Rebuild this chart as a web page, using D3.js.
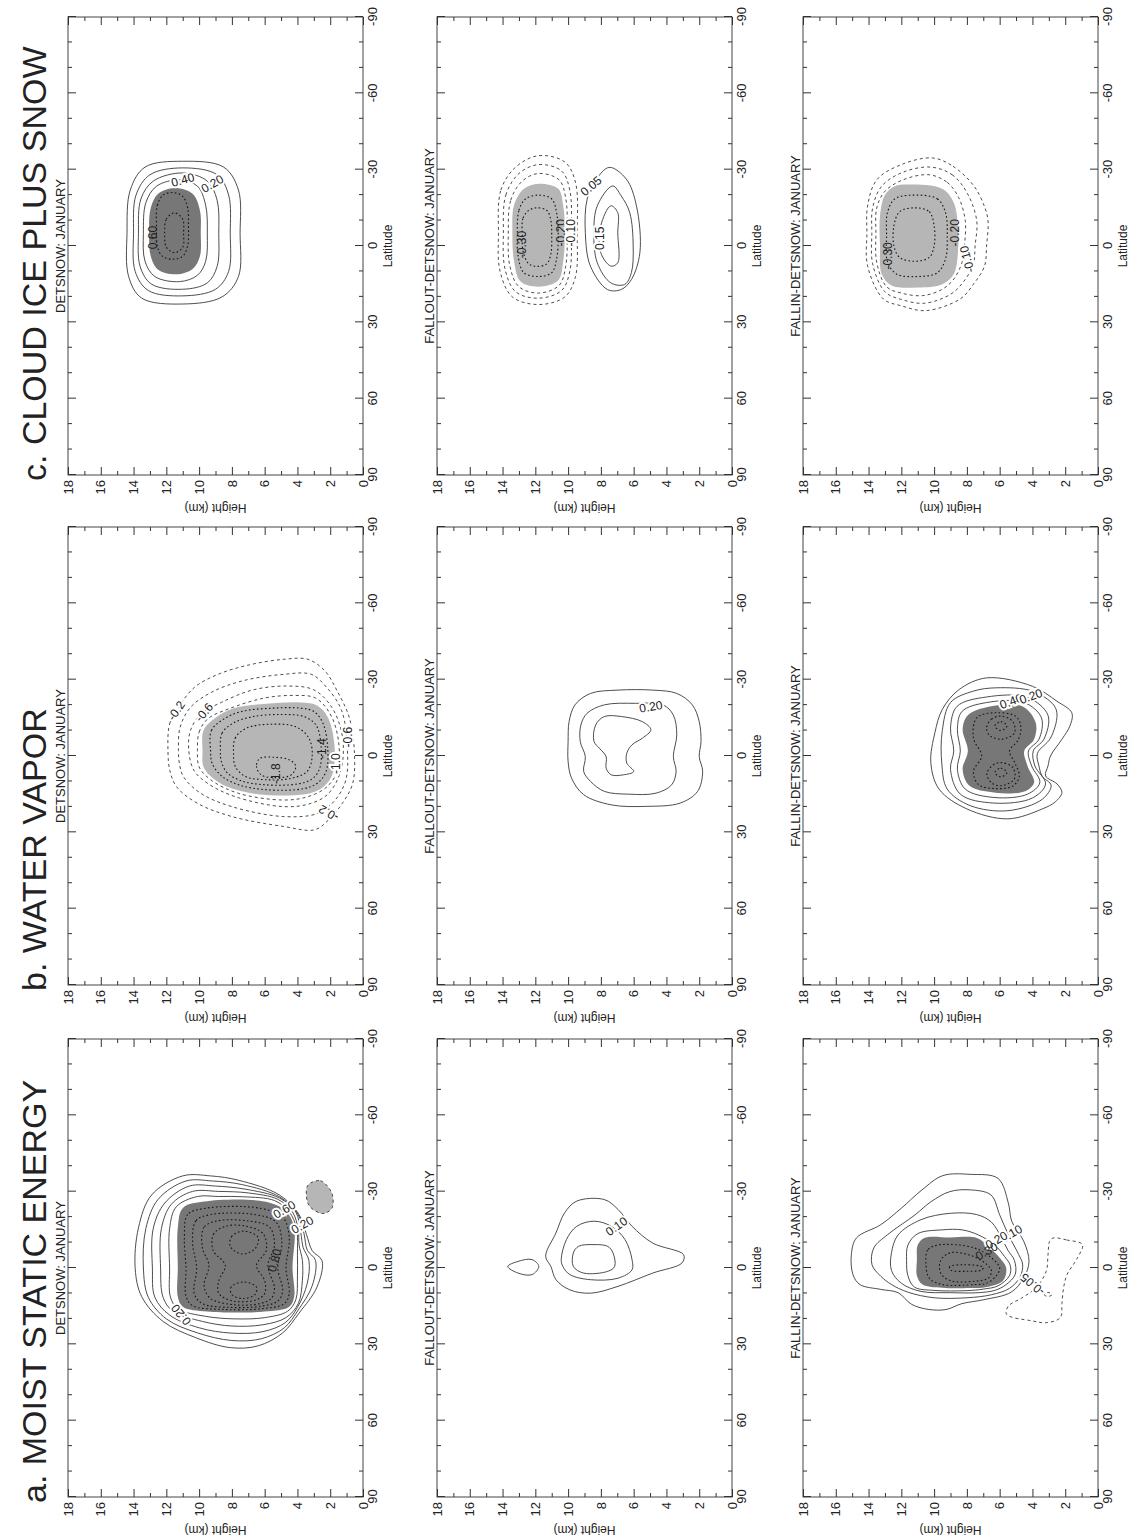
<!DOCTYPE html>
<html>
<head>
<meta charset="utf-8">
<script src="https://cdn.jsdelivr.net/npm/d3@7"></script>
<style>
  body { margin: 0; background: #fff; }
  svg { display: block; }
  text { font-family: "Liberation Sans", Arial, sans-serif; fill: #222; }
</style>
</head>
<body>
<svg id="fig" width="1134" height="1539"></svg>
<script>
// ---- labels and ticks ----
const columnTitles = ['a. MOIST STATIC ENERGY', 'b. WATER VAPOR', 'c. CLOUD ICE PLUS SNOW'];
const rowTitles = ['DETSNOW: JANUARY', 'FALLOUT-DETSNOW: JANUARY', 'FALLIN-DETSNOW: JANUARY'];
const latTicks = [90, 60, 30, 0, -30, -60, -90];
const latMinor = [80, 70, 50, 40, 20, 10, -10, -20, -40, -50, -70, -80];
const kmTicks = [0, 2, 4, 6, 8, 10, 12, 14, 16, 18];
const kmMinor = [1, 3, 5, 7, 9, 11, 13, 15, 17];

// ---- contours: [latitude, height km] ----
// a. moist static energy, DETSNOW
const aDetR1 = [[-36.2,11.0],[-28.7,12.9],[-15.8,13.7],[0.3,13.9],[11.3,13.5],[21,12.2],[27.4,10.2],[31.3,8.1],[30.6,6.4],[25.5,4.9],[17.7,3.9],[7.4,2.8],[-2.9,2.5],[-6.8,3.1],[-13.2,3.45],[-21,3.9],[-28.7,5.1],[-34.5,7.6],[-36.2,9.3]];
const aDetR2 = [[-34.2,10.8],[-27,12.5],[-15.5,13.25],[0,13.4],[11.5,13.1],[20,12],[25.5,10.1],[28.5,8],[27.8,6.2],[23.5,4.8],[16.5,3.95],[7,3.1],[-3,2.9],[-7,3.4],[-13.5,3.6],[-21.5,4.0],[-28,5.1],[-32.8,7.4],[-34.2,9.2]];
const aDetR3 = [[-32.2,10.6],[-25.5,12.1],[-15.5,12.8],[0,12.85],[11.5,12.7],[18.5,11.8],[23.5,10],[25.6,8],[25,6.1],[21.5,4.75],[15.5,4.0],[6,3.4],[-3,3.3],[-8,3.65],[-14,3.8],[-22,4.1],[-27.5,5.1],[-31,7.2],[-32.2,9]];
const aDetR4 = [[-30.1,10.4],[-25,11.7],[-15.5,12.3],[0,12.35],[11.5,12.2],[17,11.6],[21,9.8],[22.8,8],[22.3,6.1],[19.5,4.7],[14,3.95],[5,3.7],[-3,3.7],[-9,3.9],[-15,3.95],[-22,4.3],[-27,5.2],[-29.5,7],[-30.1,8.8]];
const aDetR5 = [[-28.1,10.1],[-24,11.4],[-15.5,11.8],[0,11.8],[11.4,11.75],[16,11.3],[19,9.6],[20,7.8],[19.5,6],[17,4.6],[12.5,4.1],[3,4.0],[-5,4.0],[-15.5,4.05],[-22,4.5],[-26.5,5.4],[-28,7.3],[-28.1,8.8]];
const aDetShade = [[-26.1,9.7],[-23.5,11.0],[-15.8,11.3],[0,11.3],[11.3,11.3],[15.2,11.0],[17.1,9.5],[17.1,6.0],[15.2,4.5],[11.3,4.2],[0,4.3],[-15.8,4.2],[-22.3,4.7],[-26.1,6.0]];
const aDetI7 = [[-23.5,9.6],[-21,10.7],[-12,10.9],[0,10.8],[11,10.8],[14.8,10.4],[16.3,8.5],[16,6.2],[14,4.8],[10,4.5],[0,4.7],[-12,4.5],[-20,4.9],[-23.5,6.3]];
const aDetI8 = [[-21,9.3],[-18.5,10.2],[-10,10.4],[0,10.15],[10,10.3],[14,9.8],[15.5,8],[15,6.2],[13,5.2],[9,4.9],[0,5.2],[-10,4.95],[-18,5.3],[-21,6.6]];
const aDetI9 = [[-18.5,8.9],[-16,9.7],[-8,9.8],[-1,9.4],[7,9.7],[12,9.3],[14.5,7.8],[14,6.3],[12,5.6],[8,5.4],[-1,5.8],[-9,5.4],[-16,5.7],[-18.5,7]];
const aDetI10 = [[-16.5,8.3],[-13.5,9.1],[-7,9.15],[-1,8.4],[5,8.8],[10,8.8],[13,7.9],[12.5,6.5],[10,6.0],[5,6.0],[-1,6.5],[-7,5.9],[-13.5,6.1],[-16.5,7.2]];
const aDetPeakN = [[-14.5,7.3],[-12.5,8.0],[-8.5,8.1],[-5.5,7.4],[-7.5,6.6],[-12,6.4]];
const aDetPeakS = [[5.5,7.3],[7.5,8.05],[10.5,8.0],[12,7.3],[10.5,6.6],[7.5,6.5]];
const aDetBlob = [[-32.6,3.35],[-34.3,2.6],[-29.4,1.9],[-23.5,1.9],[-21.4,2.45],[-24.2,3.25],[-28.1,3.45]];
const aDetLabels = [[18.4,11.1,'0.20',-40],[-17,3.7,'0.20',60],[-23,4.8,'0.60',60],[-3,5.4,'0.80',15]];

// a. moist static energy, FALLOUT-DETSNOW
const aOutR1 = [[-4.6,11.37],[-13.8,10.74],[-21.7,10.21],[-26.3,9.47],[-26.9,7.79],[-23,6.95],[-16.4,6.1],[-9.8,4.84],[-5.2,2.95],[-2,3.05],[2,4.84],[7.2,6.95],[9.9,8.63],[8.6,9.89],[4.6,10.74],[-0.6,11.05]];
const aOutR2 = [[-3.3,10.42],[-11.2,10.1],[-16.4,9.47],[-18.4,8.42],[-16.4,7.37],[-11.2,6.53],[-3.3,6.1],[0.7,6.1],[4.0,6.95],[4.6,8.63],[2.6,9.89],[-0.6,10.32]];
const aOutR3 = [[-5.9,9.68],[-8.5,9.37],[-9.2,8.42],[-8.5,7.58],[-5.9,7.26],[-0.6,7.16],[1.3,7.58],[2.0,9.05],[-0.6,9.68]];
const aOutBlob = [[-0.6,13.68],[-2.6,13.05],[-3.3,12.2],[-0.6,11.79],[2.6,12.2],[2.0,13.05]];
const aOutLabels = [[-16.4,7.05,'0.10',55]];

// a. moist static energy, FALLIN-DETSNOW
const aInR1 = [[-36.3,9.47],[-30.7,10.74],[-23.5,12.0],[-17,13.26],[-11.8,14.74],[-5.3,15.05],[2.6,14.95],[6.5,14.53],[8.4,13.26],[9.7,12.2],[14.3,11.37],[16.3,10.32],[16.3,9.26],[14,8.3],[12.5,7.0],[9.5,5.3],[3.9,4.53],[-2.6,4.21],[-10.5,4.53],[-18.3,5.26],[-25.5,5.47],[-35.2,6.1],[-36.8,7.79]];
const aInR2 = [[-30.7,7.8],[-30,9.05],[-26,10.2],[-20.9,11.16],[-13.1,12.84],[-7.9,13.68],[-1.3,13.79],[3.2,13.26],[6.5,12.6],[9.5,11.6],[11.7,10],[11.7,8],[10.5,6.5],[8,5.4],[3.5,4.75],[-1.5,4.6],[-5.3,4.84],[-13.1,5.47],[-20.9,6.0],[-28.7,6.53]];
const aInR3 = [[-21.5,9.0],[-19,10.8],[-13,12.2],[-6,12.6],[1,12.6],[6,12],[9.2,10.8],[9.7,9],[9.7,7.3],[8.8,6.3],[6.5,5.6],[2.5,5.05],[-3,5.1],[-7,5.5],[-12,5.9],[-18,6.5],[-21,7.4]];
const aInR4 = [[-15,9.5],[-13.5,11.0],[-9,11.6],[-3,11.68],[3,11.6],[7.5,11.2],[8.8,10],[8.9,8],[8.3,7],[7,6.1],[3,5.4],[-1,5.35],[-4.5,5.7],[-9,6.3],[-13,7.3],[-15,8.3]];
const aInShade = [[-11.8,10.6],[-12,9],[-11.8,7.4],[-8,6.6],[-4,6.0],[0,5.6],[5,5.8],[7.5,6.8],[7.9,7.8],[7.8,9.5],[6.5,10.7],[3,11.05],[-3,11.05],[-9,11.0]];
const aInI5 = [[-9,9.8],[-7,10.4],[-2,10.5],[4,10.3],[6.5,9.5],[6.5,7.5],[6,6.8],[3,6.2],[0,6.0],[-4,6.5],[-8,7.6]];
const aInI6 = [[-6,9.0],[-3,9.6],[2,9.6],[5,9.0],[5.2,7.5],[4,6.7],[1,6.5],[-2,6.9],[-5,7.8]];
const aInI7 = [[-1.3,8.2],[-0.5,9.05],[0.8,9.0],[1.3,8.0],[0.8,7.1],[-0.3,7.0]];
const aInNeg = [[-11.8,2.74],[-11,1.9],[-9.2,0.95],[-3.9,1.26],[2.6,1.89],[7.8,2.1],[14,2.2],[19.5,2.3],[21.5,3.16],[20.8,4.0],[18.2,5.58],[15,5.47],[11.7,4.63],[7.8,3.79],[1.3,3.16],[-5.3,3.05],[-10.5,2.95]];
const aInNegDot = [[9.6,3.05],[10.4,3.3],[11.2,3.05],[10.4,2.8]];
const aInLabels = [[-13.5,5.3,'0.10',60],[-11,6.2,'0.20',60],[-6.6,6.8,'0.30',60],[6.5,4.0,'-0.05',-50]];

// b. water vapor, DETSNOW
const bDetR1 = [[-2.2,11.9],[-12.6,11.8],[-19.1,11.26],[-26.9,10.3],[-32.1,8.84],[-35.8,6.95],[-38,4.84],[-38,3.37],[-33.4,2.32],[-25.6,1.58],[-15.2,0.84],[-2.2,0.53],[10.8,0.63],[18.6,1.26],[25.1,2.1],[29,2.95],[27.7,4.84],[23.8,8.0],[18.6,10.1],[12.1,11.37],[5.6,11.79]];
const bDetR2 = [[-2.2,11.26],[-11.3,11.16],[-19.1,10.53],[-25,9.26],[-29.5,7.37],[-32.1,4.84],[-32.1,3.16],[-26.9,2.21],[-17.8,1.3],[-2.2,0.95],[9.5,1.05],[17.3,1.7],[22.5,2.74],[23.8,4.84],[19.9,8.0],[14.7,9.89],[8.2,10.95],[3.0,11.2]];
const bDetR3 = [[-2.2,10.63],[-10,10.53],[-16.5,9.89],[-21.1,8.63],[-26,6.7],[-27.5,4.6],[-26,3.0],[-19.1,1.9],[-7.4,1.25],[5.6,1.35],[14.7,2.1],[18.6,3.16],[19.9,4.84],[16,7.79],[10.8,9.47],[5.6,10.32]];
const bDetR4 = [[-2.2,10.1],[-9.4,10.0],[-14.6,9.47],[-18.5,8.21],[-22.8,6.0],[-23.8,4.2],[-22.8,2.9],[-16.5,2.0],[-6.1,1.5],[5.6,1.55],[12.1,2.2],[16,3.37],[17.3,4.84],[14.7,7.58],[9.5,9.26],[4.3,10.0]];
const bDetShade = [[-2.2,9.79],[-10,9.73],[-15,9.0],[-18.8,7.9],[-20.5,5.9],[-21,3.8],[-19.8,2.8],[-15.2,2.15],[-4.8,1.75],[6.9,1.85],[12.1,2.4],[14.7,3.3],[15.3,5.89],[13,7.9],[9,9.1],[4.3,9.73]];
const bDetI1 = [[-2,9.3],[-10,9.25],[-14.5,8.5],[-17.5,7.4],[-18.8,5.5],[-18.8,3.8],[-17.5,3.0],[-13,2.45],[-3,2.15],[6,2.25],[10.5,2.75],[12.8,3.6],[13.3,5.8],[11.5,7.5],[8,8.6],[3,9.2]];
const bDetI2 = [[-2,8.7],[-9,8.6],[-13,7.9],[-15.5,6.7],[-16.3,5],[-15.5,3.6],[-12,2.85],[-3,2.55],[5,2.65],[9,3.1],[11,4],[11.3,6],[9.8,7.4],[6.5,8.3],[2,8.65]];
const bDetI3 = [[-1,7.9],[-7,7.8],[-11,7.1],[-12.5,5.6],[-11.5,4.1],[-7,3.3],[0,3.1],[6,3.4],[8.8,4.4],[9.3,6],[8,7.2],[4,7.8]];
const bDetI4 = [[1,6.3],[4,6.5],[7.5,6.2],[8.5,5.3],[7.5,4.4],[4,4.1],[1.5,4.5],[0.5,5.4]];
const bDetLabels = [[-17.8,11.4,'-0.2',35],[-17.2,9.7,'-0.6',40],[-7.4,0.95,'-0.6',0],[3,1.68,'-1.0',0],[-2.9,2.5,'-1.4',0],[6.9,5.3,'-1.8',0],[22.5,2.1,'-0.2',-60]];

// b. water vapor, FALLOUT-DETSNOW
const bOutR1 = [[-5.7,10.0],[-13.5,9.94],[-20.1,9.58],[-24.6,8.63],[-25.9,6.95],[-25.9,4.84],[-24.6,3.37],[-20.1,2.42],[-13.5,2.0],[-5.7,1.89],[0.2,2.0],[6.1,1.79],[13.9,2.1],[18.5,3.16],[19.8,5.26],[19.2,7.37],[15.2,9.05],[8.7,9.79],[2.2,10.0]];
const bOutR2 = [[-5.7,9.26],[-12.2,9.22],[-16.8,8.84],[-20.1,7.79],[-20.7,5.89],[-20.1,4.21],[-16.1,3.58],[-8.3,3.37],[0.2,3.58],[6.1,3.41],[11.3,3.68],[14.6,4.63],[15.0,6.32],[13.9,7.79],[10.0,8.63],[6.1,9.05],[0.2,8.95]];
const bOutR3 = [[-5.7,8.42],[-12.2,8.32],[-15.5,7.79],[-15.5,6.74],[-13.5,5.47],[-10.3,4.95],[-7.0,5.47],[-4.4,6.1],[-1.1,6.42],[2.8,6.42],[6.1,6.0],[7.4,6.63],[7.4,7.37],[4.8,7.68],[0.2,7.68],[-3.1,8.1]];
const bOutLabels = [[-19.4,4.95,'0.20',80]];

// b. water vapor, FALLIN-DETSNOW
const bInR1 = [[-30.7,6.8],[-27.4,4.0],[-21.5,2.5],[-17,1.6],[-12,1.7],[-6.6,2.2],[0,2.9],[3.9,3.05],[7.8,3.2],[11,2.5],[14.3,2.2],[18,2.6],[20.8,3.4],[24.7,5.5],[20.8,8.0],[13,9.7],[2.6,10.2],[-9.2,9.95],[-18.3,9.5],[-26,8.5]];
const bInR2 = [[-21,9.0],[-25.5,7.6],[-26.8,6.2],[-25.5,4.0],[-20,2.7],[-16,2.5],[-7,2.9],[-1,3.7],[4,3.6],[8,3.4],[11.5,2.86],[17,3.4],[21.5,5.5],[19.5,7.8],[13,9.2],[3,9.53],[-10,9.5]];
const bInR3 = [[-19.5,8.6],[-23.2,6.8],[-23,4.3],[-16,3.05],[-6.6,3.3],[-2,3.95],[3.9,3.85],[11,3.2],[16.5,4.0],[18.5,6.35],[15,8.4],[5.2,9.0],[-2,8.8],[-11,9.0]];
const bInR4 = [[-17.5,8.3],[-21,6.8],[-21,4.5],[-15,3.45],[-6.6,3.6],[-2,4.24],[3.9,4.05],[10.4,3.55],[15,4.3],[16.3,6.35],[13,8.1],[5.2,8.58],[-2,8.4],[-10.5,8.58]];
const bInShade = [[-16,7.95],[-19.5,6.6],[-19.5,4.6],[-13.1,3.8],[-6.6,3.9],[-2,4.5],[3.9,4.3],[10.4,3.9],[14,4.5],[14.3,6.35],[11.7,7.84],[5.2,8.26],[-2,7.94],[-10.5,8.26]];
const bInI6 = [[-15,7.4],[-17,6.3],[-15.5,5.0],[-11,4.7],[-6,4.9],[-2,5.4],[3,5.05],[8,4.8],[11.8,5.2],[12.8,6.3],[11.2,7.3],[6,7.6],[0,7.1],[-7,7.6]];
const bInPeakN = [[-11,6.8],[-14.5,6.5],[-15.7,5.9],[-13.5,5.2],[-9,5.1],[-6.6,5.9],[-8,6.6]];
const bInPeakS = [[7,6.78],[3.5,6.4],[2.6,5.9],[4.5,5.2],[9,5.1],[11.7,5.9],[10.5,6.5]];
const bInCoreN = [[-11.8,6.3],[-13.5,5.93],[-11.8,5.55],[-10,5.93]];
const bInCoreS = [[6.5,6.3],[4.8,5.93],[6.5,5.55],[8.2,5.93]];
const bInLabels = [[-21.5,5.3,'0.40',70],[-23.5,4.1,'0.20',70]];

// c. cloud ice plus snow, DETSNOW
const cDetR1 = [[-5,14.4],[-22,14.2],[-31,13.3],[-33.3,11],[-31,8.5],[-22,7.6],[-5,7.5],[12,7.6],[20,8.6],[22.8,11],[20.5,13.5],[12,14.3]];
const cDetR2 = [[-5,14.0],[-20,13.85],[-28,13.0],[-30.7,11],[-28,8.9],[-20,8.2],[-5,8.1],[10,8.2],[17,9.0],[19.6,11],[17.5,13.1],[10,13.9]];
const cDetR3 = [[-5,13.7],[-18.5,13.55],[-25.5,12.8],[-28.7,11],[-25.5,9.5],[-18,8.9],[-5,8.8],[8,8.9],[14.5,9.5],[17,11],[15,12.9],[8,13.6]];
const cDetR4 = [[-5,13.4],[-17,13.25],[-23.5,12.6],[-26,11.2],[-23.5,10.1],[-16,9.6],[-5,9.5],[6,9.6],[11.5,10.1],[14,11.2],[12,12.7],[6,13.3]];
const cDetShade = [[-5,13.05],[-15,12.95],[-20.5,12.5],[-22.8,11.5],[-20.5,10.4],[-14,9.95],[-5,9.9],[4,9.95],[9,10.4],[11.1,11.4],[9.3,12.5],[4,12.95]];
const cDetI6 = [[-8,12.6],[-16,12.55],[-20,12.2],[-21,11.6],[-19.5,11.0],[-15,10.7],[-8,10.65],[0,10.7],[4,11.0],[5.2,11.6],[4,12.25],[0,12.55]];
const cDetI7 = [[-5,12.1],[-10.5,12.0],[-13,11.5],[-10.5,11.0],[-5,10.95],[0.5,11.0],[2.6,11.5],[0.5,12.0]];
const cDetLabels = [[-24.5,9.2,'0.20',60],[-26,11.0,'0.40',75],[-3.3,12.85,'0.60',0]];

// c. cloud ice plus snow, FALLOUT-DETSNOW
const cOutN1 = [[-5,14.25],[-22,14.1],[-31,13.2],[-35.5,11.8],[-33,10.2],[-25,9.55],[-5,9.45],[12,9.55],[20,10.2],[23,11.8],[20,13.4],[10,14.15]];
const cOutN2 = [[-5,13.95],[-20,13.8],[-28.5,13],[-32,11.8],[-29.5,10.4],[-22,9.9],[-5,9.8],[10,9.9],[17.5,10.4],[20.5,11.8],[18,13.2],[9,13.85]];
const cOutN3 = [[-5,13.65],[-18,13.5],[-25.5,12.8],[-28.5,11.8],[-26,10.55],[-19,10.15],[-5,10.05],[8,10.15],[15.5,10.55],[18.5,11.8],[16,13],[8,13.55]];
const cOutShade = [[-5,13.4],[-16,13.3],[-22.5,12.7],[-24.5,11.8],[-22.5,10.6],[-16,10.3],[-5,10.2],[6,10.3],[13.5,10.6],[16,11.8],[14,12.9],[6,13.3]];
const cOutN5 = [[-4,13.1],[-14,13.0],[-18.5,12.6],[-20,11.8],[-18.5,11.0],[-13,10.7],[-4,10.6],[5,10.7],[10.5,11.0],[12,11.8],[10.5,12.7],[4,13.05]];
const cOutN6 = [[-4,12.8],[-11,12.75],[-14,12.4],[-15,11.9],[-14,11.3],[-10,11.05],[-4,11.0],[3,11.05],[7,11.3],[8,11.9],[7,12.4],[2,12.75]];
const cOutP1 = [[-30.9,7.49],[-26.3,6.45],[-15.8,5.83],[2.6,5.62],[13.2,6.14],[17.1,6.76],[17.1,7.6],[7.9,8.64],[-5.2,8.95],[-18.4,8.84],[-26,8.3]];
const cOutP2 = [[-23.6,7.28],[-19.7,6.76],[-13.1,6.24],[0,6.03],[10.5,6.14],[15.1,6.55],[14.5,7.39],[6.6,8.22],[-5.2,8.43],[-15.8,8.22]];
const cOutP3 = [[-15.8,7.39],[-13.1,6.97],[-5.2,6.97],[6.6,6.97],[7.9,7.39],[2.6,8.01],[-7.9,8.01]];
const cOutLabels = [[-0.6,12.8,'-0.30',0],[-5.2,10.45,'-0.20',0],[-5.2,9.85,'-0.10',0],[-23.6,8.6,'0.05',50],[-3,8.05,'0.15',0]];

// c. cloud ice plus snow, FALLIN-DETSNOW
const cInN1 = [[-34.6,10.1],[-31.3,8.84],[-23.5,7.56],[-15,6.9],[-9.8,6.71],[0,6.8],[7.8,6.92],[15,7.6],[20.8,8.41],[25.4,10.5],[23.5,12],[20.8,13.1],[7.8,14.06],[-5,14.1],[-15.7,14.06],[-26,13.5],[-32,12]];
const cInN2 = [[-31,10.2],[-28,8.9],[-21,8.0],[-10,7.4],[0,7.5],[7,7.6],[14,8.2],[19,9.0],[22.5,10.6],[21,12],[18,13.0],[7,13.75],[-5,13.8],[-15,13.75],[-23.5,13.2],[-29,11.9]];
const cInN3 = [[-28,10.3],[-25,9.2],[-19,8.5],[-10,8.1],[0,8.15],[6.5,8.3],[13,8.8],[17,9.5],[19.5,10.7],[18.5,12],[16,12.9],[6.5,13.5],[-5,13.55],[-15,13.5],[-21.5,13.0],[-26,11.9]];
const cInShade = [[-24.2,11.5],[-22.5,9.5],[-17,8.8],[-8,8.55],[3,8.55],[11,8.8],[15,9.5],[16.3,11],[15.5,12.6],[11,13.2],[0,13.3],[-12,13.3],[-20,13.0],[-23.5,12.4]];
const cInN5 = [[-20,11.3],[-18.5,9.8],[-13,9.3],[-4,9.2],[5,9.3],[10.5,9.8],[12,11],[11,12.3],[6,12.85],[-4,12.9],[-13,12.85],[-18.5,12.4]];
const cInN6 = [[-15,11.2],[-13.5,10.3],[-8,10.0],[0,10.0],[4.5,10.3],[6,11.2],[4.5,12.1],[0,12.45],[-8,12.45],[-13.5,12.1]];
const cInLabels = [[3.9,12.85,'-0.30',0],[-5.2,8.75,'-0.20',0],[5.2,8.0,'-0.10',-15]];

// ---- panel table built from the arrays above ----
const panels = [
  { col: 0, row: 0, pos: 0.6, neg: null,
    shade: [[0.6, aDetShade], [-0.1, aDetBlob]],
    lines: [[0.1, aDetR1], [0.2, aDetR2], [0.3, aDetR3], [0.4, aDetR4], [0.5, aDetR5], [0.7, aDetI7], [0.8, aDetI8], [0.9, aDetI9], [1.0, aDetI10], [1.1, aDetPeakN], [1.1, aDetPeakS], [-0.1, aDetBlob]],
    labels: aDetLabels },
  { col: 0, row: 1, pos: null, neg: null, shade: [],
    lines: [[0.05, aOutR1], [0.10, aOutR2], [0.15, aOutR3], [0.05, aOutBlob]],
    labels: aOutLabels },
  { col: 0, row: 2, pos: 0.4, neg: null,
    shade: [[0.4, aInShade]],
    lines: [[0.05, aInR1], [0.10, aInR2], [0.20, aInR3], [0.30, aInR4], [0.5, aInI5], [0.6, aInI6], [0.7, aInI7], [-0.05, aInNeg], [-0.10, aInNegDot]],
    labels: aInLabels },
  { col: 1, row: 0, pos: null, neg: -1.0,
    shade: [[-1.0, bDetShade]],
    lines: [[-0.2, bDetR1], [-0.4, bDetR2], [-0.6, bDetR3], [-0.8, bDetR4], [-1.2, bDetI1], [-1.4, bDetI2], [-1.6, bDetI3], [-1.8, bDetI4]],
    labels: bDetLabels },
  { col: 1, row: 1, pos: null, neg: null, shade: [],
    lines: [[0.1, bOutR1], [0.2, bOutR2], [0.3, bOutR3]],
    labels: bOutLabels },
  { col: 1, row: 2, pos: 0.5, neg: null,
    shade: [[0.5, bInShade]],
    lines: [[0.1, bInR1], [0.2, bInR2], [0.3, bInR3], [0.4, bInR4], [0.6, bInI6], [0.7, bInPeakN], [0.7, bInPeakS], [0.8, bInCoreN], [0.8, bInCoreS]],
    labels: bInLabels },
  { col: 2, row: 0, pos: 0.5, neg: null,
    shade: [[0.5, cDetShade]],
    lines: [[0.1, cDetR1], [0.2, cDetR2], [0.3, cDetR3], [0.4, cDetR4], [0.6, cDetI6], [0.7, cDetI7]],
    labels: cDetLabels },
  { col: 2, row: 1, pos: null, neg: -0.2,
    shade: [[-0.2, cOutShade]],
    lines: [[-0.05, cOutN1], [-0.10, cOutN2], [-0.15, cOutN3], [-0.25, cOutN5], [-0.30, cOutN6], [0.05, cOutP1], [0.10, cOutP2], [0.15, cOutP3]],
    labels: cOutLabels },
  { col: 2, row: 2, pos: null, neg: -0.2,
    shade: [[-0.2, cInShade]],
    lines: [[-0.05, cInN1], [-0.10, cInN2], [-0.15, cInN3], [-0.25, cInN5], [-0.30, cInN6]],
    labels: cInLabels }
];

// ---- layout (the figure is drawn upright, then turned a quarter to fit the page) ----
const COL_U = [42, 554, 1064];
const ROW_V = [68, 437, 803];
const PW = 458, PH = 295;
const DARK = '#777777', LIGHT = '#b6b6b6';

const svg = d3.select('#fig');
const g = svg.append('g').attr('transform', 'translate(0,1539) rotate(-90)');

columnTitles.forEach((t, i) => {
  g.append('text').attr('x', COL_U[i] - 6).attr('y', 46).attr('font-size', 34).text(t);
});

function axisStyle(sel) {
  sel.select('.domain').remove();
  sel.attr('color', '#333').attr('font-size', 13).attr('font-family', null);
}

function drawPanel(p) {
  const u0 = COL_U[p.col], v0 = ROW_V[p.row];
  const x = d3.scaleLinear().domain([90, -90]).range([u0, u0 + PW]);
  const y = d3.scaleLinear().domain([0, 18]).range([v0 + PH, v0]);
  const ring = d3.line().x(d => x(d[0])).y(d => y(d[1])).curve(d3.curveCatmullRomClosed.alpha(0.5));
  const pg = g.append('g');

  p.shade.forEach(([lev, pts]) => {
    pg.append('path').attr('d', ring(pts)).attr('fill', lev > 0 ? DARK : LIGHT);
  });

  p.lines.forEach(([lev, pts]) => {
    const inside = (lev > 0 && p.pos != null && lev > p.pos) || (lev < 0 && p.neg != null && lev < p.neg);
    pg.append('path').attr('d', ring(pts))
      .attr('fill', 'none')
      .attr('stroke', inside ? '#151515' : '#3a3a3a')
      .attr('stroke-width', inside ? 1.1 : 0.9)
      .attr('stroke-dasharray', inside ? '1.6,2.4' : (lev < 0 ? '3,3' : null));
  });

  const shadePx = p.shade.map(([, pts]) => pts.map(d => [x(d[0]), y(d[1])]));
  p.labels.forEach(([lat, km, txt, ang]) => {
    const px = x(lat), py = y(km);
    const onShade = shadePx.some(poly => d3.polygonContains(poly, [px, py]));
    pg.append('text')
      .attr('transform', `translate(${px},${py}) rotate(${ang})`)
      .attr('text-anchor', 'middle').attr('dy', '0.35em').attr('font-size', 12)
      .attr('stroke', onShade ? 'none' : '#fff').attr('stroke-width', 4)
      .attr('paint-order', 'stroke')
      .text(txt);
  });

  pg.append('rect').attr('x', u0).attr('y', v0).attr('width', PW).attr('height', PH)
    .attr('fill', 'none').attr('stroke', '#444').attr('stroke-width', 1);

  // latitude axis (bottom with labels, top mirrored)
  pg.append('g').attr('transform', `translate(0,${v0 + PH})`)
    .call(d3.axisBottom(x).tickValues(latTicks).tickSize(-8).tickPadding(5).tickFormat(d => String(d))).call(axisStyle);
  pg.append('g').attr('transform', `translate(0,${v0 + PH})`)
    .call(d3.axisBottom(x).tickValues(latMinor).tickSize(-4).tickFormat('')).call(axisStyle);
  pg.append('g').attr('transform', `translate(0,${v0})`)
    .call(d3.axisTop(x).tickValues(latTicks).tickSize(-8).tickFormat('')).call(axisStyle);
  pg.append('g').attr('transform', `translate(0,${v0})`)
    .call(d3.axisTop(x).tickValues(latMinor).tickSize(-4).tickFormat('')).call(axisStyle);

  // height axis (left with labels, right mirrored)
  pg.append('g').attr('transform', `translate(${u0},0)`)
    .call(d3.axisLeft(y).tickValues(kmTicks).tickSize(-8).tickPadding(5).tickFormat(d => String(d))).call(axisStyle);
  pg.append('g').attr('transform', `translate(${u0},0)`)
    .call(d3.axisLeft(y).tickValues(kmMinor).tickSize(-4).tickFormat('')).call(axisStyle);
  pg.append('g').attr('transform', `translate(${u0 + PW},0)`)
    .call(d3.axisRight(y).tickValues(kmTicks).tickSize(-8).tickFormat('')).call(axisStyle);
  pg.append('g').attr('transform', `translate(${u0 + PW},0)`)
    .call(d3.axisRight(y).tickValues(kmMinor).tickSize(-4).tickFormat('')).call(axisStyle);

  pg.append('text').attr('x', x(0)).attr('y', v0 - 3).attr('text-anchor', 'middle')
    .attr('font-size', 13).text(rowTitles[p.row]);
  pg.append('text').attr('x', x(0)).attr('y', v0 + PH + 29).attr('text-anchor', 'middle')
    .attr('font-size', 12).text('Latitude');
  pg.append('text').attr('transform', `translate(${u0 - 29},${v0 + PH / 2}) rotate(-90)`)
    .attr('text-anchor', 'middle').attr('font-size', 12).text('Height (km)');
}

panels.forEach(drawPanel);
</script>
</body>
</html>
